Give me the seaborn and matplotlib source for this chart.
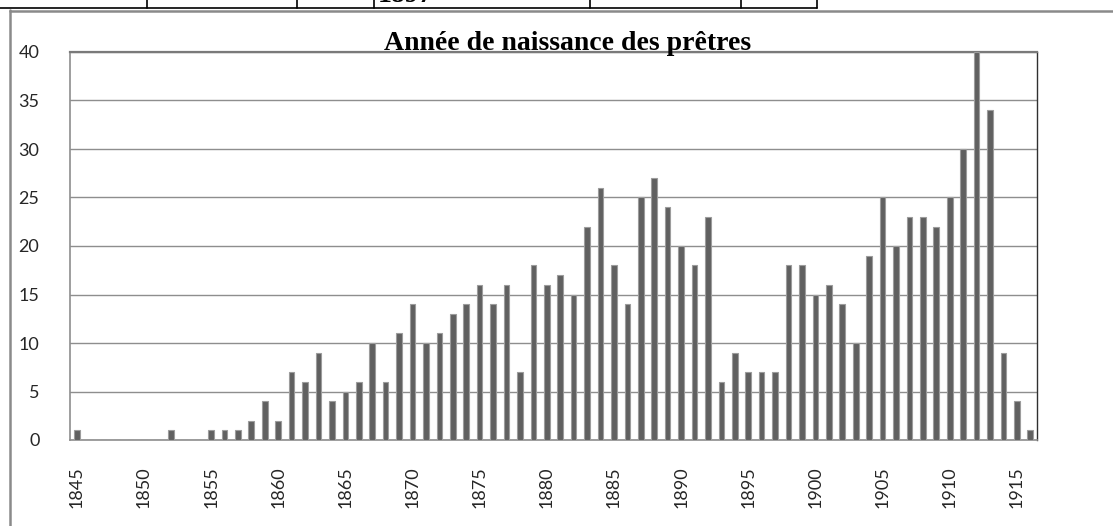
import numpy as np
import pandas as pd
import matplotlib
matplotlib.use("Agg")
import matplotlib.pyplot as plt
from matplotlib.lines import Line2D
import seaborn as sns

# Nombre de prêtres par année de naissance
years = list(range(1845, 1917))
counts = [1, 0, 0, 0, 0, 0, 0, 1, 0, 0,
          1, 1, 1, 2, 4, 2, 7, 6, 9, 4,
          5, 6, 10, 6, 11, 14, 10, 11, 13, 14,
          16, 14, 16, 7, 18, 16, 17, 15, 22, 26,
          18, 14, 25, 27, 24, 20, 18, 23, 6, 9,
          7, 7, 7, 18, 18, 15, 16, 14, 10, 19,
          25, 20, 23, 23, 22, 25, 30, 40, 34, 9,
          4, 1]
y_ticks = [0, 5, 10, 15, 20, 25, 30, 35, 40]
title = "Année de naissance des prêtres"

df = pd.DataFrame({"annee": [str(y) for y in years], "pretres": counts})

sns.set_theme(style="white")
plt.rcParams["font.family"] = ["Lato", "DejaVu Sans"]

W, H = 1113, 526
fig = plt.figure(figsize=(W / 100, H / 100), dpi=100)
ax = fig.add_axes([70 / W, 1 - 440 / H, (1037 - 70) / W, (440 - 52) / H])

sns.barplot(data=df, x="annee", y="pretres", ax=ax, color="#606060",
            saturation=1, width=0.42, edgecolor="#9c9c9c", linewidth=0.8,
            zorder=3)

ax.set_xlim(-0.5, len(years) - 0.5)
ax.set_ylim(0, 40)
ax.set_yticks(y_ticks)
ax.set_yticklabels([str(v) for v in y_ticks])
ax.yaxis.grid(True, color="#8e8e8e", linewidth=1.0, zorder=0)
ax.set_axisbelow(True)

major = list(range(0, len(years), 5))
ax.set_xticks(major)
ax.set_xticklabels([str(years[i]) for i in major], rotation=90)
ax.set_xticks(np.arange(-0.5, len(years), 1.0), minor=True)
ax.tick_params(axis="x", which="major", length=0, pad=19,
               labelsize=13, labelcolor="#262626")
ax.tick_params(axis="x", which="minor", length=7, width=1.0,
               color="#8e8e8e", direction="out")
ax.tick_params(axis="y", which="major", length=7, width=1.0,
               color="#8e8e8e", direction="out", pad=15,
               labelsize=13, labelcolor="#262626")

for side, col, lw in [("left", "#8e8e8e", 1.2), ("bottom", "#8e8e8e", 1.2),
                      ("top", "#7a7a7a", 1.6), ("right", "#303030", 1.0)]:
    ax.spines[side].set_visible(True)
    ax.spines[side].set_color(col)
    ax.spines[side].set_linewidth(lw)

ax.set_xlabel("")
ax.set_ylabel("")

fig.text(0.5 * (380 + 755) / W, 1 - 50 / H, title, ha="center", va="baseline",
         family="Liberation Serif", fontweight="bold", fontsize=20,
         color="#000000")

# Cadre de la page et rangée de tableau au-dessus
def fig_line(xs, ys, **kw):
    fig.add_artist(Line2D([x / W for x in xs], [1 - y / H for y in ys],
                          transform=fig.transFigure, **kw))

fig_line([10, W], [10.5, 10.5], color="#8a8a8a", linewidth=1.8)
fig_line([10, 10], [10, H], color="#8a8a8a", linewidth=1.8)
fig_line([0, 817], [8, 8], color="#000000", linewidth=1.2)
for xv in [147, 297, 374, 590, 741, 817]:
    fig_line([xv, xv], [0, 8], color="#000000", linewidth=1.2)
fig.text(378 / W, 1 - 2.5 / H, "1897", ha="left", va="baseline",
         family="Liberation Serif", fontweight="bold", fontsize=20,
         color="#000000")

fig.savefig("out.png", dpi=100)
